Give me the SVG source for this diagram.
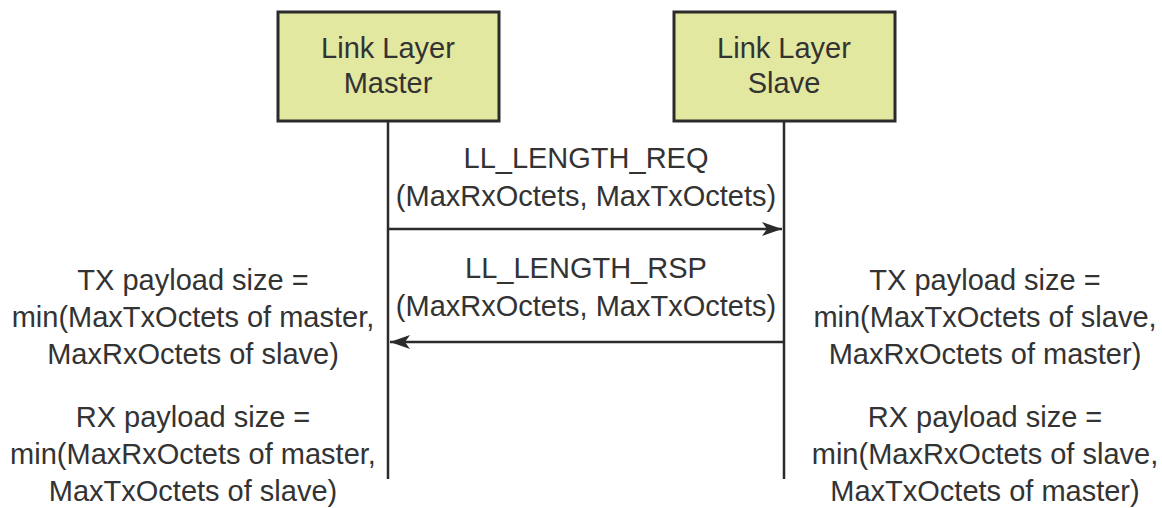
<svg xmlns="http://www.w3.org/2000/svg" width="1162" height="508" viewBox="0 0 1162 508">
  <style>
    .box { fill: #e3e8a0; stroke: #2b2b2b; stroke-width: 3; }
    .life { stroke: #2b2b2b; stroke-width: 2.5; fill: none; }
    .msg { stroke: #2b2b2b; stroke-width: 2.5; fill: none; }
    text { font-family: "Liberation Sans", "DejaVu Sans", sans-serif; font-size: 29px; fill: #333333; text-anchor: middle; }
  </style>
  <defs>
    <marker id="arrow" viewBox="0 0 20 14" refX="20" refY="7" markerWidth="20" markerHeight="14" markerUnits="userSpaceOnUse" orient="auto">
      <path d="M0,0 L20,7 L0,14 L5,7 Z" fill="#2b2b2b"/>
    </marker>
  </defs>
  <rect width="1162" height="508" fill="#ffffff"/>

  <!-- participant: master -->
  <g id="master">
    <rect class="box" x="278" y="12" width="221" height="109"/>
    <text x="388" y="58">Link Layer</text>
    <text x="388" y="93">Master</text>
  </g>

  <!-- participant: slave -->
  <g id="slave">
    <rect class="box" x="674" y="12" width="221" height="109"/>
    <text x="784" y="58">Link Layer</text>
    <text x="784" y="93">Slave</text>
  </g>

  <!-- lifelines and messages -->
  <g id="connectors">
    <line class="life" x1="388" y1="121" x2="388" y2="479"/>
    <line class="life" x1="784" y1="121" x2="784" y2="479"/>
    <line class="msg" x1="388" y1="229" x2="782" y2="229" marker-end="url(#arrow)"/>
    <line class="msg" x1="784" y1="342" x2="390" y2="342" marker-end="url(#arrow)"/>
  </g>

  <g id="req-label">
    <text x="586" y="168">LL_LENGTH_REQ</text>
    <text x="586" y="206">(MaxRxOctets, MaxTxOctets)</text>
  </g>
  <g id="rsp-label">
    <text x="586" y="278">LL_LENGTH_RSP</text>
    <text x="586" y="316">(MaxRxOctets, MaxTxOctets)</text>
  </g>

  <g id="master-tx">
    <text x="193" y="290">TX payload size =</text>
    <text x="193" y="327">min(MaxTxOctets of master,</text>
    <text x="193" y="364">MaxRxOctets of slave)</text>
  </g>
  <g id="master-rx">
    <text x="193" y="427">RX payload size =</text>
    <text x="193" y="464">min(MaxRxOctets of master,</text>
    <text x="193" y="501">MaxTxOctets of slave)</text>
  </g>
  <g id="slave-tx">
    <text x="985" y="290">TX payload size =</text>
    <text x="985" y="327">min(MaxTxOctets of slave,</text>
    <text x="985" y="364">MaxRxOctets of master)</text>
  </g>
  <g id="slave-rx">
    <text x="985" y="427">RX payload size =</text>
    <text x="985" y="464">min(MaxRxOctets of slave,</text>
    <text x="985" y="501">MaxTxOctets of master)</text>
  </g>
</svg>
